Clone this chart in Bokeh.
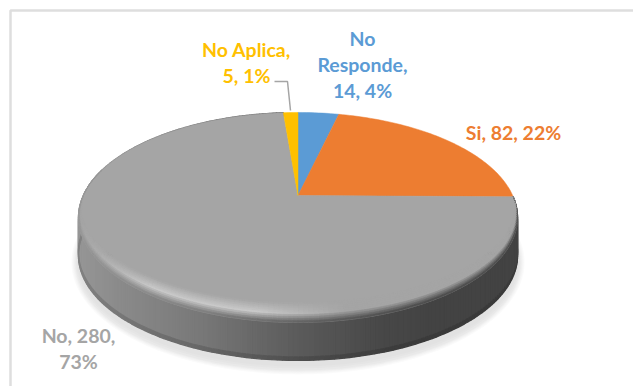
import numpy as np
from bokeh.core.properties import value
from bokeh.embed import file_html
from bokeh.models import ColumnDataSource, Range1d
from bokeh.plotting import figure
from bokeh.resources import INLINE

categories = ["No Responde", "Si", "No", "No Aplica"]
counts = [14, 82, 280, 5]
percents = ["4%", "22%", "73%", "1%"]
colors = ["#5b9bd5", "#ed7d31", "#a5a5a5", "#ffc000"]

# Perspective disc: apex of the slices and projection constants, in page pixels.
APEX_X, APEX_Y = 297.5, 195.0
RADIUS_X, RADIUS_Y, TILT = 214.7, 100.4, 0.209
DEPTH = 38.0
FACE = np.array([165.0, 165.0, 165.0])


def rim(angle):
    """Clockwise angle from twelve o'clock to a point on the disc edge."""
    angle = np.asarray(angle, dtype=float)
    u, v = np.sin(angle), np.cos(angle)
    d = 1 + TILT * v
    return APEX_X + RADIUS_X * u / d, APEX_Y - RADIUS_Y * v / d


def to_hex(rgb):
    r, g, b = [int(round(min(255, max(0, c)))) for c in rgb]
    return f"#{r:02x}{g:02x}{b:02x}"


def wall_level(x):
    return np.interp(x, [78, 120, 200, 300, 380, 430, 517],
                     [150, 138, 120, 90, 72, 67, 67])


shares = np.array(counts) / sum(counts) * 2 * np.pi
stops = np.concatenate([[0.0], np.cumsum(shares)])

p = figure(width=633, height=386, output_backend="svg", toolbar_location=None,
           x_range=Range1d(0, 633), y_range=Range1d(386, 0), min_border=0)
p.axis.visible = False
p.grid.visible = False
p.outline_line_color = None
p.background_fill_color = "white"
p.border_fill_color = "white"

# Chart frame, open on the right and bottom
p.line([10, 10, 633], [386, 10, 10], line_color="#dedede", line_width=2.5)

# Soft ground shadow: stacked outlines stepping from pale to darker
full = np.linspace(0, 2 * np.pi, 241)
rx, ry = rim(full)
centre_x, centre_y = 297.5, (ry.min() + ry.max()) / 2
for grow, drop, level in [(7, 14, 251), (6, 13, 247), (5, 12, 243), (4, 11, 238),
                          (3, 10, 233), (2, 8, 229), (1, 6, 226)]:
    sx = centre_x + (rx - centre_x) * (1 + grow / 219)
    sy = centre_y + (ry - centre_y) * (1 + grow / 105) + DEPTH + drop - grow
    p.patch(sx, sy, fill_color=to_hex([level] * 3), line_color=None)

# The front wall and the bevel belong to the largest slice
main = categories.index("No")
sweep = np.linspace(stops[main], stops[main + 1], 241)
ex, ey = rim(sweep)

xs, ys, fills = [], [], []
for i in range(len(sweep) - 1):
    lev = wall_level((ex[i] + ex[i + 1]) / 2)
    for top, bottom, k in [(0, DEPTH - 3.5, 1.0), (DEPTH - 3.5, DEPTH, 0.86)]:
        xs.append([ex[i], ex[i + 1], ex[i + 1], ex[i]])
        ys.append([ey[i] + top, ey[i + 1] + top, ey[i + 1] + bottom, ey[i] + bottom])
        fills.append(to_hex([lev * k] * 3))
p.patches(xs, ys, fill_color=fills, line_color=fills, line_width=1.3)

# Flat top face, one wedge per category
for start, stop, color in zip(stops[:-1], stops[1:], colors):
    n = max(3, int((stop - start) / 0.02))
    wx, wy = rim(np.linspace(start, stop, n))
    p.patch(np.r_[APEX_X, wx], np.r_[APEX_Y, wy], fill_color=color, line_color=color,
            line_width=0.5)

# Bevel: bands between the edge and a curve pulled in toward the face
edge_phi = np.arctan2(ey - centre_y, (ex - centre_x) / 2.09)
pull = np.clip((np.sin(edge_phi) + 0.45) / 1.45, 0, 1)
pull = pull * np.clip((sweep - sweep[0]) / 0.18, 0, 1)
band_w = pull ** 1.15 * 19 + 0.8 * (pull > 0)
levels = np.linspace(0, 1, 11)
INSET = 0.6 / 219


def pull_in(i, s):
    shrink = 1 - (1 - s) * band_w[i] * INSET
    return centre_x + (ex[i] - centre_x) * shrink, ey[i] - (1 - s) * band_w[i]


bx, by, bfill = [], [], []
for i in range(len(sweep) - 1):
    if pull[i] <= 0 and pull[i + 1] <= 0:
        continue
    mx = (ex[i] + ex[i + 1]) / 2
    glow = np.clip((345 - mx) / 90, 0, 1) * np.clip((mx - 78) / 70, 0, 1)
    hi = FACE + 36 * glow
    lo = np.array([wall_level(mx)] * 3)
    for a, b in zip(levels[:-1], levels[1:]):
        t = (a + b) / 2
        rgb = FACE + (hi - FACE) * (t / 0.55) if t < 0.55 else hi + (lo - hi) * ((t - 0.55) / 0.45)
        ax0, ay0 = pull_in(i, a)
        ax1, ay1 = pull_in(i + 1, a)
        bx1, by1 = pull_in(i + 1, b)
        bx0, by0 = pull_in(i, b)
        bx.append([ax0, ax1, bx1, bx0])
        by.append([ay0, ay1, by1, by0])
        bfill.append(to_hex(rgb))
p.patches(bx, by, fill_color=bfill, line_color=bfill, line_width=0.6)

# Leader line for the narrow slice
p.line([274, 287, 290], [81, 81, 110], line_color="#a5a5a5", line_width=1.5)

# Data labels, each category on its own wrapped lines
label_lines = {
    0: ["No", "Responde,", f"{counts[0]}, {percents[0]}"],
    1: [f"{categories[1]}, {counts[1]}, {percents[1]}"],
    2: [f"{categories[2]}, {counts[2]},", percents[2]],
    3: [f"{categories[3]},", f"{counts[3]}, {percents[3]}"],
}
anchors = {0: (362, [38, 64, 90]), 1: (513, [132]), 2: (78, [335, 361]), 3: (246, [49, 75])}
rows = {"x": [], "y": [], "t": [], "c": []}
for idx, lines in label_lines.items():
    ax, ay = anchors[idx]
    for line, ly in zip(lines, ay):
        rows["x"].append(ax)
        rows["y"].append(ly)
        rows["t"].append(line)
        rows["c"].append(colors[idx])
p.text("x", "y", text="t", text_color="c", source=ColumnDataSource(rows),
       text_font=value("Lato"), text_font_style="bold", text_font_size="19.5px",
       text_align="center", text_baseline="middle")

open("out.html", "w").write(file_html(p, INLINE))
